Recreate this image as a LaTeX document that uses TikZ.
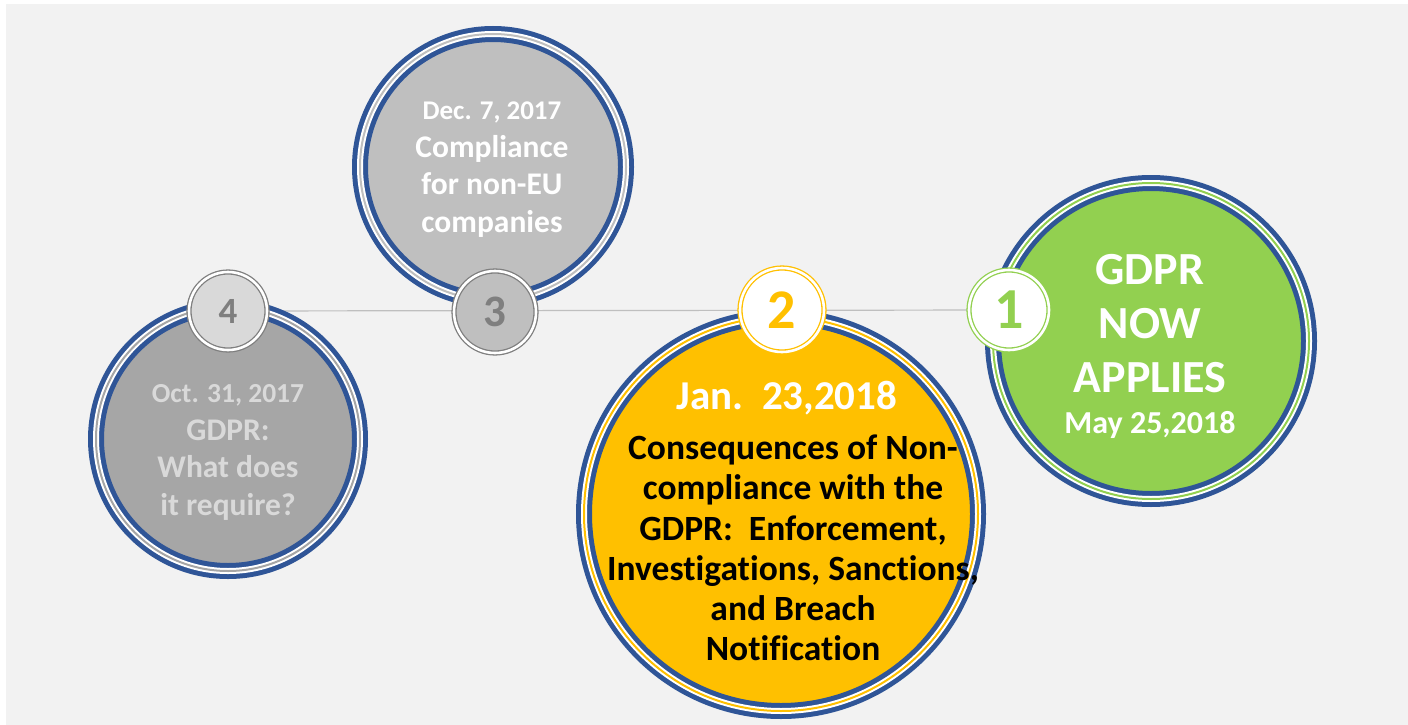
\documentclass[tikz,border=0pt]{standalone}
\usepackage{fontspec}
\setmainfont{Carlito}[Ligatures=NoCommon]
\definecolor{ringblue}{HTML}{2F5597}
\definecolor{bggray}{HTML}{F2F2F2}
\definecolor{gdprgreen}{HTML}{92D050}
\definecolor{gdpryellow}{HTML}{FFC000}
\definecolor{darkdisc}{HTML}{A6A6A6}
\definecolor{lightdisc}{HTML}{BFBFBF}
\definecolor{paledisc}{HTML}{D9D9D9}
\definecolor{numgray}{HTML}{7F7F7F}
\definecolor{linegray}{HTML}{BFBFBF}

\begin{document}
\begin{tikzpicture}[x=1pt,y=-1pt,
  disc/.style={circle, inner sep=0pt, fill=#1, draw=ringblue, line width=5pt,
    double=white, double distance=6pt,
    postaction={draw=#1, double=#1, line width=0.7pt, double distance=0.6pt}},
  badge/.style={circle, inner sep=0pt, minimum size=78pt, draw=#1, line width=1.3pt,
    double=white, double distance=2.6pt},
  txt/.style={align=center, inner sep=0pt},
  timeline/.style={draw=linegray, line width=1.2pt}]

% background
\fill[white] (0,0) rectangle (1408,725);
\fill[bggray] (6,4) rectangle (1408,725);
\useasboundingbox (0,0) rectangle (1408,725);

% badge centres and the timeline behind them
\coordinate (p4) at (228,311);
\coordinate (p3) at (495,312);
\coordinate (p2) at (782,310);
\coordinate (p1) at (1009,310);
\draw[timeline] (p4) -- (p1);

% the big discs
\node[disc=darkdisc, minimum size=264pt] (c4) at (228,439) {};
\node[disc=lightdisc, minimum size=266pt] (c3) at (493,167) {};
\node[disc=gdpryellow, minimum size=394pt] (c2) at (781,514) {};
\node[disc=gdprgreen, minimum size=316pt] (c1) at (1151,341) {};

% texts
\node[txt, text=paledisc, font=\bfseries\fontsize{27.5}{37.5}\selectfont] (d4) at (228,395) {Oct. 31, 2017};
\node[txt, text=paledisc, font=\bfseries\fontsize{31.5}{37.5}\selectfont] (t4) at (228,470) {GDPR:\\What does\\it require?};

\node[txt, text=white, font=\bfseries\fontsize{27}{37}\selectfont] (d3) at (492,112) {Dec. 7, 2017};
\node[txt, text=white, font=\bfseries\fontsize{31.5}{37.5}\selectfont] (t3) at (492,186) {Compliance\\for non-EU\\companies};

\node[txt, text=white, font=\bfseries\fontsize{41}{42}\selectfont] (d2) at (787,398) {Jan.\ \ 23,2018};
\node[txt, text=black, font=\bfseries\fontsize{35.5}{40.2}\selectfont] (t2) at (793,548) {Consequences of Non-\\compliance with the\\GDPR:\ \ Enforcement,\\Investigations, Sanctions,\\and Breach\\Notification};

\node[txt, text=white, font=\bfseries\fontsize{46}{54}\selectfont] (t1) at (1150,324) {GDPR\\NOW\\APPLIES};
\node[txt, text=white, font=\bfseries\fontsize{32}{32}\selectfont] (d1) at (1150,425) {May 25,2018};

% the numbered badges
\node[badge=numgray, fill=paledisc, text=numgray, font=\bfseries\fontsize{37}{37}\selectfont] (b4) at (p4) {4};
\node[badge=numgray, fill=lightdisc, text=numgray, font=\bfseries\fontsize{45}{45}\selectfont, minimum size=82pt] (b3) at (p3) {3};
\node[badge=gdpryellow, fill=white, text=gdpryellow, font=\bfseries\fontsize{56}{56}\selectfont, minimum size=84pt] (b2) at (p2) {2};
\node[badge=gdprgreen, fill=white, text=gdprgreen, font=\bfseries\fontsize{58}{58}\selectfont, minimum size=80pt] (b1) at (p1) {1};

\end{tikzpicture}
\end{document}
